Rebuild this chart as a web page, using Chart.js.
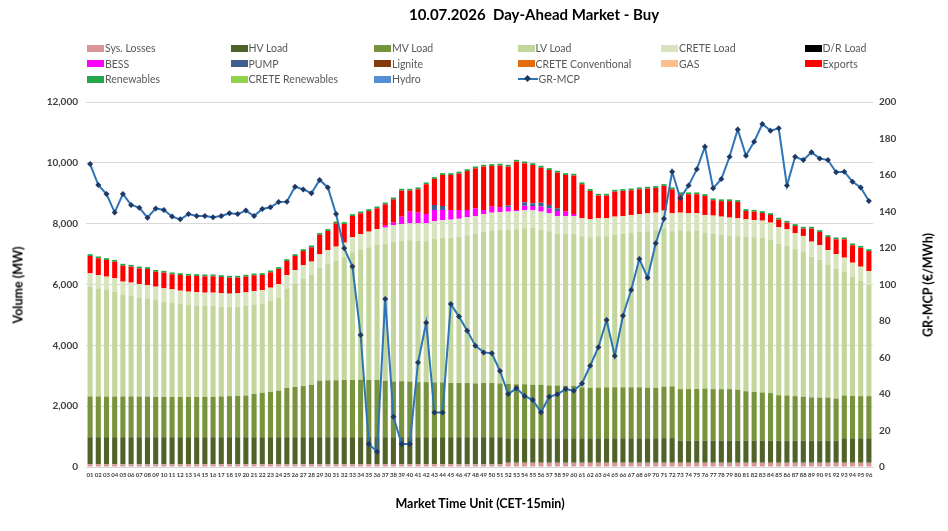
<!DOCTYPE html>
<html><head><meta charset="utf-8">
<script src="https://cdn.jsdelivr.net/npm/chart.js@4.4.1/dist/chart.umd.min.js"></script>
<style>
html,body{margin:0;padding:0;background:#fff;}
#wrap{position:relative;width:948px;height:531px;font-family:Lato,"Open Sans",sans-serif;overflow:hidden;}
#c{position:absolute;left:0;top:0;}
#title{position:absolute;left:334px;width:400px;top:5px;text-align:center;font-weight:bold;font-size:15px;color:#000;}
.atitle{position:absolute;font-weight:bold;font-size:12.5px;color:#000;white-space:nowrap;}
#legend{position:absolute;left:0;top:0;width:948px;height:100px;}
.li{position:absolute;height:14px;display:flex;align-items:center;font-size:10.5px;color:#595959;white-space:nowrap;}
.sw{width:17px;height:7px;margin-right:1px;}
</style></head>
<body><div id="wrap">
<canvas id="c" width="948" height="531"></canvas>
<div id="title">10.07.2026&nbsp;&nbsp;Day-Ahead Market - Buy</div>
<div id="legend"></div>
<div class="atitle" id="yl" style="left:18px;top:285px;transform:translate(-50%,-50%) rotate(-90deg);">Volume (MW)</div>
<div class="atitle" id="yr" style="left:928px;top:285px;transform:translate(-50%,-50%) rotate(-90deg);">GR-MCP (€/MWh)</div>
<div class="atitle" id="xl" style="left:480px;top:503px;transform:translate(-50%,-50%);">Market Time Unit (CET-15min)</div>
</div>
<script>
const mtu = ['01','02','03','04','05','06','07','08','09','10','11','12',
'13','14','15','16','17','18','19','20','21','22','23','24',
'25','26','27','28','29','30','31','32','33','34','35','36',
'37','38','39','40','41','42','43','44','45','46','47','48',
'49','50','51','52','53','54','55','56','57','58','59','60',
'61','62','63','64','65','66','67','68','69','70','71','72',
'73','74','75','76','77','78','79','80','81','82','83','84',
'85','86','87','88','89','90','91','92','93','94','95','96'];

const sysLosses = [90,90,90,90,90,90,90,90,90,90,90,90,
90,90,90,90,90,90,90,90,90,90,90,90,
90,90,90,90,90,90,90,90,90,90,90,90,
90,90,90,90,90,90,90,90,90,90,90,90,
90,90,90,140,140,140,140,140,140,140,140,140,
140,140,140,140,140,140,140,140,140,140,140,140,
140,140,140,140,140,140,140,140,140,140,140,140,
140,140,140,140,140,140,140,140,140,140,140,140];

const hvLoad = [890,890,890,890,890,890,890,890,890,890,890,890,
890,890,890,890,890,890,890,890,890,890,890,890,
890,890,890,890,890,890,890,890,890,890,890,890,
890,890,890,890,890,890,890,890,890,890,890,890,
890,890,890,805,805,805,805,805,805,805,805,805,
805,805,805,805,805,805,805,805,805,805,810,810,
730,730,730,730,730,730,730,730,730,730,730,730,
730,730,730,730,730,730,730,730,805,805,805,805];

const mvLoad = [1340,1340,1335,1335,1340,1340,1335,1335,1325,1325,1320,1320,
1320,1320,1325,1325,1340,1350,1360,1370,1420,1460,1490,1530,
1620,1650,1680,1720,1860,1870,1870,1880,1880,1890,1880,1880,
1850,1830,1840,1830,1810,1810,1800,1800,1780,1780,1780,1770,
1780,1780,1770,1785,1775,1775,1755,1755,1735,1735,1725,1725,
1675,1655,1665,1675,1675,1675,1675,1675,1665,1655,1690,1700,
1690,1690,1700,1710,1690,1690,1690,1670,1620,1600,1580,1560,
1490,1480,1460,1440,1420,1410,1410,1380,1405,1395,1385,1385];

const lvLoad = [3607,3553,3503,3448,3334,3301,3262,3229,3183,3129,3101,3057,
3024,3005,2986,2986,2949,2928,2930,2952,2946,2939,2986,3067,
3273,3407,3541,3611,3702,3825,3924,4036,4202,4291,4367,4445,
4509,4607,4620,4641,4651,4631,4718,4751,4780,4810,4859,4912,
4968,5012,5040,5075,5100,5130,5160,5105,5070,4982,4992,4992,
4966,4953,4976,4966,5021,5040,5076,5108,5140,5172,5198,5101,
5212,5190,5190,5116,5114,5081,5050,5046,5073,5080,5089,5053,
4981,4935,4834,4776,4618,4529,4375,4278,4062,3912,3796,3654];

const creteLoad = [440,440,440,440,440,440,440,440,440,440,440,440,
440,440,440,440,440,440,440,440,440,440,440,440,
440,440,440,440,450,460,470,480,490,500,510,520,
530,540,550,560,570,590,590,590,590,590,590,590,
590,590,590,590,590,590,590,590,590,590,590,590,
590,590,590,590,590,590,590,590,590,590,590,590,
590,590,590,590,590,590,590,590,580,570,560,550,
540,530,520,510,500,490,480,475,470,465,460,460];

const bess = [0,0,0,0,0,0,0,0,0,0,0,0,
0,0,0,0,0,0,0,0,0,0,0,0,
0,0,0,0,0,0,0,0,0,0,0,0,
65,76,240,384,351,307,362,329,320,290,241,253,
132,197,165,150,40,150,130,165,165,165,143,66,
0,0,0,0,0,0,0,0,0,0,0,0,
0,0,0,0,0,0,0,0,0,0,0,0,
0,0,0,0,0,0,0,0,0,0,0,0];

const pump = [0,0,0,0,0,0,0,0,0,0,0,0,
0,0,0,0,0,0,0,0,0,0,0,0,
0,0,0,0,0,0,0,0,0,0,0,0,
0,0,0,0,0,0,164,131,0,0,0,0,
0,0,0,55,0,110,90,130,110,90,0,0,
0,0,0,0,0,0,0,0,0,0,0,0,
0,0,0,0,0,0,0,0,0,0,0,0,
0,0,0,0,0,0,0,0,0,0,0,0];

const exportsMW = [570,548,548,547,526,525,513,526,492,516,494,515,
526,535,537,537,538,527,515,516,514,493,504,493,
459,460,461,471,638,625,767,614,700,679,680,680,
702,767,856,691,769,977,856,1021,1150,1200,1280,1315,
1426,1338,1365,1276,1589,1285,1260,1153,1151,1173,1205,1262,
1119,933,747,747,822,826,812,813,813,813,812,789,
608,627,617,625,506,509,540,539,274,275,252,252,
251,218,240,241,429,428,428,483,604,573,624,656];

const renewables = [60,60,60,60,60,60,60,60,60,60,60,60,
60,60,60,60,60,60,60,60,60,60,60,60,
60,60,60,60,60,60,60,60,60,60,60,60,
60,60,60,60,60,60,60,60,60,60,60,60,
60,60,60,60,60,60,60,60,60,60,60,60,
60,60,60,60,60,60,60,60,60,60,60,60,
60,60,60,60,60,60,60,60,60,60,60,60,
60,60,60,60,60,60,60,60,60,60,60,60];

const grMcp = [166.0,154.5,149.6,139.5,149.6,143.6,142.1,136.6,141.7,140.8,137.2,135.7,
138.6,137.5,137.5,136.8,137.5,139.0,138.6,140.5,137.5,141.4,142.3,145.2,
145.4,153.6,152.1,150.0,157.3,153.2,138.6,119.8,109.8,72.3,12.6,8.4,
92.1,27.6,12.6,12.6,57.2,79.1,29.8,29.8,89.3,82.4,74.7,66.5,
62.8,62.3,52.6,40.0,43.1,38.9,36.7,30.0,38.5,39.8,42.7,41.8,
45.8,55.5,65.6,80.5,60.8,82.9,97.0,114.0,103.7,122.6,136.0,161.8,
147.2,154.2,163.1,175.5,152.7,157.8,170.0,185.0,170.6,178.2,187.9,184.3,
185.6,154.2,170.0,168.2,172.4,169.1,168.2,161.5,161.8,156.3,153.2,145.8];

const volTicks = [0,2000,4000,6000,8000,10000,12000];
const priceTicks = [0,20,40,60,80,100,120,140,160,180,200];

function bar(label, data, color){
  return {type:'bar', label, data, backgroundColor:color, borderWidth:0, stack:'s', order:2,
          categoryPercentage:1.0, barPercentage:0.62, yAxisID:'y'};
}
const datasets = [
  bar('Sys. Losses', sysLosses, '#d99694'),
  bar('HV Load', hvLoad, '#4f6228'),
  bar('MV Load', mvLoad, '#77933c'),
  bar('LV Load', lvLoad, '#c3d69b'),
  bar('CRETE Load', creteLoad, '#d7e4bd'),
  bar('D/R Load', [], '#000000'),
  bar('BESS', bess, '#ff00ff'),
  bar('PUMP', pump, '#3f5f8f'),
  bar('Lignite', [], '#843c0c'),
  bar('CRETE Conventional', [], '#e46c0a'),
  bar('GAS', [], '#fac090'),
  bar('Exports', exportsMW, '#ff0000'),
  bar('Renewables', renewables, '#22a84a'),
  bar('CRETE Renewables', [], '#92d050'),
  bar('Hydro', [], '#558ed5'),
  {type:'line', label:'GR-MCP', data:grMcp, yAxisID:'y2', order:0,
   borderColor:'#2e75b6', borderWidth:2, tension:0,
   pointStyle:'rectRot', pointRadius:3, pointBackgroundColor:'#1f3864', pointBorderColor:'#1f3864', pointBorderWidth:0}
];

const tickFont = {family:'Lato', size:10, weight:'bold'};
const chart = new Chart(document.getElementById('c'), {
  data:{labels:mtu, datasets},
  options:{
    responsive:false, animation:false, devicePixelRatio:1,
    layout:{padding:{top:102,left:0,right:0,bottom:0}},
    plugins:{legend:{display:false}, title:{display:false}, tooltip:{enabled:false}},
    scales:{
      x:{stacked:true, grid:{display:false, drawTicks:false},
         border:{display:true,color:'#d9d9d9'},
         ticks:{autoSkip:false, maxRotation:0, minRotation:0, padding:4,
                font:{family:'Lato',size:6,weight:'bold'}, color:'#404040'},
         afterFit:(s)=>{s.height=64;}},
      y:{stacked:true, position:'left', min:0, max:12000,
         afterBuildTicks:(s)=>{s.ticks=volTicks.map(v=>({value:v}));},
         grid:{color:'#d9d9d9', drawTicks:false}, border:{display:false},
         ticks:{padding:8, font:tickFont, color:'#404040',
                callback:(v)=>v.toLocaleString('en-US')},
         afterFit:(s)=>{s.width=86;}},
      y2:{position:'right', min:0, max:200,
         afterBuildTicks:(s)=>{s.ticks=priceTicks.map(v=>({value:v}));},
         grid:{display:false, drawTicks:false}, border:{display:false},
         ticks:{padding:6, font:tickFont, color:'#404040'},
         afterFit:(s)=>{s.width=75;}}
    }
  }
});

// HTML legend built from chart datasets
const lg = document.getElementById('legend');
chart.data.datasets.forEach((ds,i)=>{
  const col = i%6, row = Math.floor(i/6);
  const d = document.createElement('div');
  d.className='li';
  d.style.left = (87 + col*143.5) + 'px';
  d.style.top = (41 + row*15.5) + 'px';
  let sw;
  if(ds.type==='line'){
    sw = document.createElement('span');
    sw.style.cssText='position:relative;width:20px;height:7px;margin-right:1px;display:inline-block;';
    sw.innerHTML='<span style="position:absolute;left:0;top:2.5px;width:20px;height:2px;background:'+ds.borderColor+'"></span>'+
      '<span style="position:absolute;left:7px;top:0.5px;width:5px;height:5px;background:'+ds.pointBackgroundColor+';transform:rotate(45deg)"></span>';
  } else {
    sw = document.createElement('span');
    sw.className='sw';
    sw.style.background = ds.backgroundColor;
  }
  d.appendChild(sw);
  const t = document.createElement('span');
  t.textContent = ds.label;
  d.appendChild(t);
  lg.appendChild(d);
});
</script>
</body></html>
